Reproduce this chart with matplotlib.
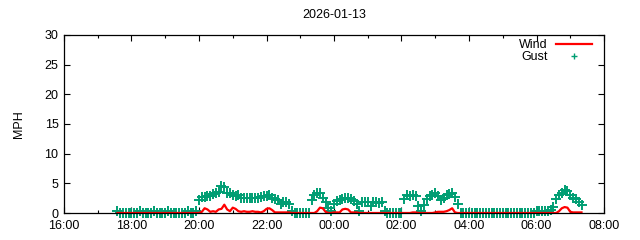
import matplotlib
matplotlib.use("Agg")
import matplotlib.pyplot as plt
import matplotlib.dates as mdates
import pandas as pd
import numpy as np

plt.rcParams['font.family'] = ['Liberation Sans', 'DejaVu Sans']
plt.rcParams['font.size'] = 9

title = "2026-01-13"
ylabel = "MPH"
start = "2026-01-12 17:35"
step = "5min"

# gust values (MPH), every 5 minutes from 17:35
gust_1735 = [0.4, 0, 0, 0, 0]
gust_18 = [0, 0, 0, 0.4, 0, 0, 0, 0, 0.4, 0, 0, 0]
gust_19 = [0, 0.4, 0, 0, 0, 0, 0, 0, 0.4, 0, 0, 0.4]
gust_20 = [2.2, 2.7, 2.7, 2.9, 2.9, 3.2, 3.3, 3.5, 4.5, 4.3, 3.4, 3.3]
gust_21 = [3.0, 2.9, 3.0, 2.6, 2.5, 2.5, 2.6, 2.5, 2.6, 2.6, 2.7, 2.8]
gust_22 = [2.8, 3.0, 2.6, 2.3, 2.2, 1.6, 1.9, 1.9, 1.5, 0.3, 0, 0]
gust_23 = [0, 0, 0, 0, 2.2, 3.0, 3.3, 3.4, 2.6, 1.8, 0.9, 0.3]
gust_00 = [1.6, 2.0, 2.2, 2.4, 2.6, 2.5, 2.3, 2.0, 1.6, 0.3, 1.9, 1.9]
gust_01 = [1.9, 1.2, 1.9, 1.9, 1.7, 1.8, 0.3, 0, 0, 0, 0, 0]
gust_02 = [0, 2.4, 3.0, 2.9, 3.1, 2.8, 1.2, 0.4, 1.4, 2.4, 2.8, 3.1]
gust_03 = [3.3, 2.9, 2.2, 2.6, 3.0, 3.2, 3.3, 2.7, 1.5, 0, 0, 0]
gust_04 = [0, 0, 0, 0, 0, 0, 0, 0, 0, 0, 0, 0]
gust_05 = [0, 0, 0, 0, 0, 0, 0, 0, 0, 0, 0, 0]
gust_06 = [0.3, 0.3, 0.4, 0.3, 0.3, 0.5, 1.0, 2.3, 3.0, 3.4, 3.9, 3.7]
gust_07 = [3.0, 2.6, 2.4, 1.9, 1.4]

# wind values (MPH), same times
wind_1735 = [0, 0, 0, 0, 0]
wind_18 = [0, 0, 0, 0, 0, 0, 0, 0, 0, 0, 0, 0]
wind_19 = [0, 0, 0, 0, 0, 0, 0, 0, 0, 0, 0, 0]
wind_20 = [0, 0.2, 0.8, 0.6, 0.2, 0.3, 0.2, 0.6, 0.7, 1.4, 0.6, 0.3]
wind_21 = [0.9, 0.7, 0.3, 0.2, 0.3, 0.2, 0.2, 0.3, 0.2, 0.2, 0.1, 0.3]
wind_22 = [0.7, 0.8, 0.5, 0.1, 0.1, 0.1, 0.1, 0.1, 0.1, 0, 0, 0]
wind_23 = [0, 0, 0, 0, 0, 0, 0.3, 0.9, 0.8, 0.2, 0, 0]
wind_00 = [0.1, 0.1, 0.1, 0.6, 0.7, 0.6, 0.1, 0.1, 0.1, 0, 0, 0]
wind_01 = [0, 0, 0, 0, 0, 0, 0, 0, 0, 0, 0, 0]
wind_02 = [0, 0, 0, 0, 0.1, 0.1, 0, 0, 0, 0, 0, 0]
wind_03 = [0.1, 0.2, 0.2, 0.2, 0.3, 0.5, 0.8, 0.1, 0, 0, 0, 0]
wind_04 = [0, 0, 0, 0, 0, 0, 0, 0, 0, 0, 0, 0]
wind_05 = [0, 0, 0, 0, 0, 0, 0, 0, 0, 0, 0, 0]
wind_06 = [0, 0, 0, 0, 0, 0, 0, 0, 0.3, 0.8, 1.0, 0.9]
wind_07 = [0.2, 0.1, 0.1, 0.1, 0.1]

gust = (gust_1735 + gust_18 + gust_19 + gust_20 + gust_21 + gust_22 + gust_23
        + gust_00 + gust_01 + gust_02 + gust_03 + gust_04 + gust_05 + gust_06 + gust_07)
wind = (wind_1735 + wind_18 + wind_19 + wind_20 + wind_21 + wind_22 + wind_23
        + wind_00 + wind_01 + wind_02 + wind_03 + wind_04 + wind_05 + wind_06 + wind_07)
times = pd.date_range(start, periods=len(gust), freq=step)

x_start = pd.Timestamp("2026-01-12 16:00")
x_end = pd.Timestamp("2026-01-13 08:00")

fig = plt.figure(figsize=(6.4, 2.4), dpi=100)
ax = fig.add_axes([0.1, 0.1125, 0.84375, 0.7417])

ax.plot(times, wind, color='#ff0000', lw=1.6, label='Wind', zorder=3)
ax.plot(times, gust, ls='none', marker='+', ms=6.5, mew=1.4, color='#009e73',
        label='Gust', zorder=2, clip_on=False)

ax.set_xlim(x_start, x_end)
ax.set_ylim(0, 30)
ax.set_yticks([0, 5, 10, 15, 20, 25, 30])
ax.xaxis.set_major_locator(mdates.HourLocator(byhour=range(0, 24, 2)))
ax.xaxis.set_minor_locator(mdates.HourLocator())
ax.xaxis.set_major_formatter(mdates.DateFormatter('%H:%M'))
ax.tick_params(which='major', direction='in', length=4, width=0.8, top=True, right=True,
               labelsize=9, pad=4)
ax.tick_params(axis='x', which='major', pad=5)
ax.tick_params(which='minor', direction='in', length=2, width=0.8, top=True, right=True)
for s in ax.spines.values():
    s.set_linewidth(0.9)
    s.set_zorder(4)

ax.set_ylabel(ylabel, fontsize=9, labelpad=14)
fig.text(0.522, 0.937, title, ha='center', va='center', fontsize=9)

leg = ax.legend(loc='upper right', frameon=False, markerfirst=False, fontsize=9,
                handlelength=2.9, handletextpad=0.64, borderaxespad=0.0, borderpad=0.2,
                labelspacing=0.0, bbox_to_anchor=(0.982, 0.99))
leg.legend_handles[1].set_markersize(4.5)
leg.legend_handles[1].set_markeredgewidth(1.0)

fig.savefig('out.png', dpi=100)
